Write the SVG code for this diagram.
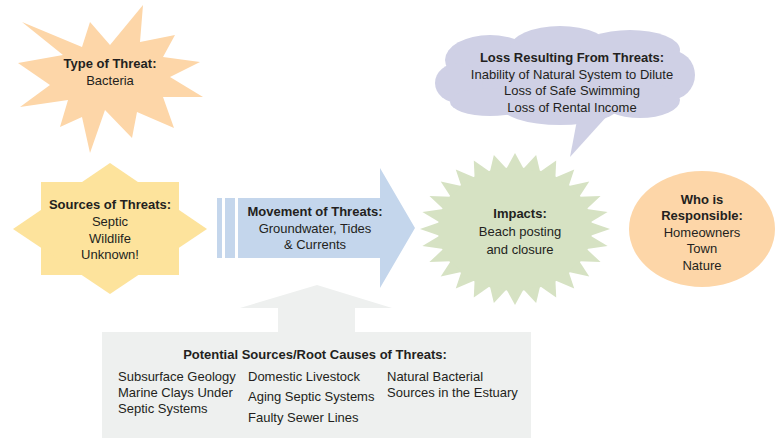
<svg xmlns="http://www.w3.org/2000/svg" xmlns:xlink="http://www.w3.org/1999/xlink" width="781" height="439" viewBox="0 0 781 439">
<style>
text{font-family:"Liberation Sans",Arial,sans-serif;font-size:13px;fill:#231f20;text-anchor:middle}
.b{font-weight:bold}
.l{text-anchor:start}
.peach{fill:#fdd6a8}
.yellow{fill:#fde39c}
.blue{fill:#c4d6ec}
.lav{fill:#cfd0e5}
.green{fill:#d6e2c3}
.gray{fill:#eef0ef}
</style>
<defs>
<polygon id="spike" points="-8.5,-75.5 0,-95 8.5,-75.5"/>
</defs>
<rect width="781" height="439" fill="#fff"/>

<g id="connectors">
<g id="movement-arrow">
<rect class="blue" x="217" y="198" width="5" height="60"/>
<rect class="blue" x="225" y="198" width="10" height="60"/>
<polygon class="blue" points="238,198 380,198 380,168 415,228 380,288 380,258 238,258"/>
</g>
<polygon id="root-arrow" class="gray" points="317,285 392,308 355,308 355,332 278,332 278,308 240,308"/>
</g>

<g id="type-of-threat">
<polygon class="peach" points="22,22 82,47 90,22 110,45 143,5 140,42 175,35 163,57 200,62 170,77 203,97 163,97 174,128 137,112 132,138 105,110 90,153 82,117 60,127 68,100 20,107 50,85 18,63 63,55"/>
<text x="110" y="68" class="b">Type of Threat:</text>
<text x="110" y="85">Bacteria</text>
</g>

<g id="sources-of-threats">
<rect class="yellow" x="41" y="182" width="138" height="93"/>
<polygon class="yellow" points="110,163 207,229 110,294 13,229"/>
<text x="110" y="209" class="b">Sources of Threats:</text>
<text x="110" y="226">Septic</text>
<text x="110" y="243">Wildlife</text>
<text x="110" y="259">Unknown!</text>
</g>

<g id="movement-label">
<text x="315" y="216" class="b">Movement of Threats:</text>
<text x="315" y="233">Groundwater, Tides</text>
<text x="315" y="249">&amp; Currents</text>
</g>

<g id="loss">
<g class="lav">
<ellipse cx="565" cy="78" rx="120" ry="38"/>
<ellipse cx="490" cy="60" rx="45" ry="25"/>
<ellipse cx="560" cy="48" rx="50" ry="22"/>
<ellipse cx="630" cy="50" rx="50" ry="20"/>
<ellipse cx="670" cy="75" rx="25" ry="25"/>
<ellipse cx="459" cy="83" rx="24" ry="20"/>
<ellipse cx="560" cy="105" rx="60" ry="20"/>
<ellipse cx="640" cy="100" rx="40" ry="18"/>
<ellipse cx="490" cy="102" rx="40" ry="14"/>
<polygon points="578,115 608,115 570,157"/>
</g>
<text x="572" y="62" class="b">Loss Resulting From Threats:</text>
<text x="572" y="79">Inability of Natural System to Dilute</text>
<text x="572" y="95">Loss of Safe Swimming</text>
<text x="572" y="112">Loss of Rental Income</text>
</g>

<g id="impacts">
<g class="green" transform="translate(515,229) scale(1,0.8)">
<circle r="77"/>
<use xlink:href="#spike"/>
<use xlink:href="#spike" transform="rotate(12.857)"/>
<use xlink:href="#spike" transform="rotate(25.714)"/>
<use xlink:href="#spike" transform="rotate(38.571)"/>
<use xlink:href="#spike" transform="rotate(51.429)"/>
<use xlink:href="#spike" transform="rotate(64.286)"/>
<use xlink:href="#spike" transform="rotate(77.143)"/>
<use xlink:href="#spike" transform="rotate(90)"/>
<use xlink:href="#spike" transform="rotate(102.857)"/>
<use xlink:href="#spike" transform="rotate(115.714)"/>
<use xlink:href="#spike" transform="rotate(128.571)"/>
<use xlink:href="#spike" transform="rotate(141.429)"/>
<use xlink:href="#spike" transform="rotate(154.286)"/>
<use xlink:href="#spike" transform="rotate(167.143)"/>
<use xlink:href="#spike" transform="rotate(180)"/>
<use xlink:href="#spike" transform="rotate(192.857)"/>
<use xlink:href="#spike" transform="rotate(205.714)"/>
<use xlink:href="#spike" transform="rotate(218.571)"/>
<use xlink:href="#spike" transform="rotate(231.429)"/>
<use xlink:href="#spike" transform="rotate(244.286)"/>
<use xlink:href="#spike" transform="rotate(257.143)"/>
<use xlink:href="#spike" transform="rotate(270)"/>
<use xlink:href="#spike" transform="rotate(282.857)"/>
<use xlink:href="#spike" transform="rotate(295.714)"/>
<use xlink:href="#spike" transform="rotate(308.571)"/>
<use xlink:href="#spike" transform="rotate(321.429)"/>
<use xlink:href="#spike" transform="rotate(334.286)"/>
<use xlink:href="#spike" transform="rotate(347.143)"/>
</g>
<text x="520" y="218" class="b">Impacts:</text>
<text x="520" y="236">Beach posting</text>
<text x="520" y="254">and closure</text>
</g>

<g id="who-is-responsible">
<ellipse class="peach" cx="702" cy="229" rx="73" ry="58"/>
<text x="702" y="204" class="b">Who is</text>
<text x="702" y="220" class="b">Responsible:</text>
<text x="702" y="237">Homeowners</text>
<text x="702" y="253">Town</text>
<text x="702" y="270">Nature</text>
</g>

<g id="root-causes">
<rect class="gray" x="102" y="332" width="429" height="106"/>
<text x="315" y="359" class="b">Potential Sources/Root Causes of Threats:</text>
<text x="118" y="381" class="l">Subsurface Geology</text>
<text x="118" y="397" class="l">Marine Clays Under</text>
<text x="118" y="413" class="l">Septic Systems</text>
<text x="248" y="381" class="l">Domestic Livestock</text>
<text x="248" y="401" class="l">Aging Septic Systems</text>
<text x="248" y="422" class="l">Faulty Sewer Lines</text>
<text x="387" y="381" class="l">Natural Bacterial</text>
<text x="387" y="397" class="l">Sources in the Estuary</text>
</g>
</svg>
